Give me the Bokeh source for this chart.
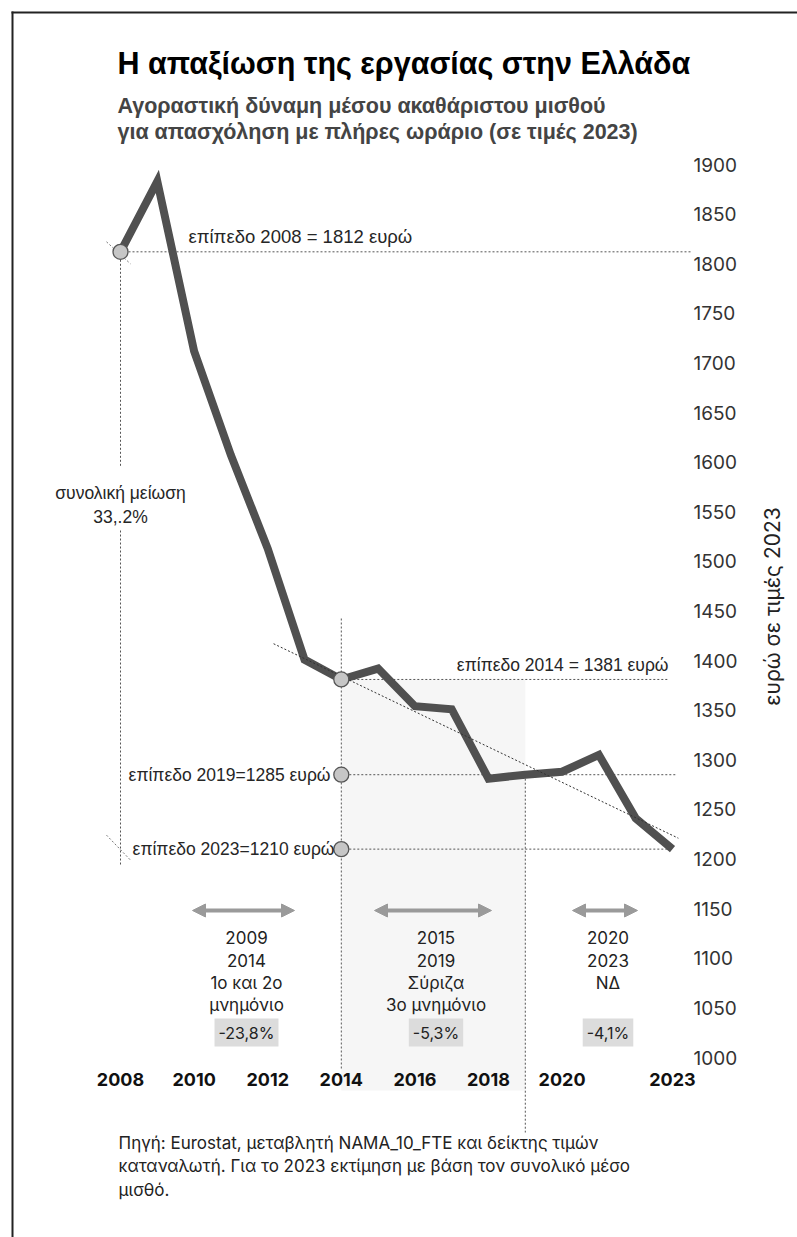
import math
from bokeh.plotting import figure
from bokeh.models import Range1d, FixedTicker, Label, Arrow, NormalHead, BoxAnnotation
from bokeh.embed import file_html
from bokeh.resources import INLINE

# ---------------- data ----------------
years = [2008, 2009, 2010, 2011, 2012, 2013, 2014, 2015,
         2016, 2017, 2018, 2019, 2020, 2021, 2022, 2023]
wage = [1812, 1883, 1712, 1607, 1513, 1401, 1381, 1392,
        1354, 1351, 1281, 1285, 1288, 1305, 1241, 1210]

level_years = [2008, 2014, 2019, 2023]
level_values = [1812, 1381, 1285, 1210]
level_labels = ["επίπεδο 2008 = 1812 ευρώ", "επίπεδο 2014 = 1381 ευρώ",
                "επίπεδο 2019=1285 ευρώ", "επίπεδο 2023=1210 ευρώ"]

marker_x = [2008, 2014, 2014, 2014]
marker_y = [1812, 1381, 1285, 1210]

trend_x = [2012.16, 2023.16]
trend_y = [1417, 1221]

period_lines = [["2009", "2014", "1ο και 2ο", "μνημόνιο"],
                ["2015", "2019", "Σύριζα", "3ο μνημόνιο"],
                ["2020", "2023", "ΝΔ"]]
period_change = ["-23,8%", "-5,3%", "-4,1%"]
total_label = ["συνολική μείωση", "33,.2%"]

x_ticks = [2008, 2010, 2012, 2014, 2016, 2018, 2020, 2023]
y_ticks = [1000, 1050, 1100, 1150, 1200, 1250, 1300, 1350, 1400, 1450,
           1500, 1550, 1600, 1650, 1700, 1750, 1800, 1850, 1900]
y_title = "ευρώ σε τιμές 2023"
title = "Η απαξίωση της εργασίας στην Ελλάδα"
subtitle = ["Αγοραστική δύναμη μέσου ακαθάριστου μισθού",
            "για απασχόληση με πλήρες ωράριο (σε τιμές 2023)"]
source_lines = ["Πηγή: Eurostat, μεταβλητή NAMA_10_FTE και δείκτης τιμών",
                "καταναλωτή. Για το 2023 εκτίμηση με βάση τον συνολικό μέσο",
                "μισθό."]

# ---------------- layout helpers (canvas pixels -> data) ----------------
W, H = 797, 1237
AX_X, AX_Y = 688, 1057          # where the value axis / year axis sit (px)
X2008, PX_YEAR = 120, 36.8
Y1900, SY = 164, 893 / 900.0


def X(px):
    return 2008 + (px - X2008) / PX_YEAR


def Y(py):
    return 1900 - (py - Y1900) / SY


def dx(px):
    return px / PX_YEAR


def dy(px):
    return px / SY


p = figure(width=W, height=H, x_range=Range1d(X(0), X(W)), y_range=Range1d(Y(H), Y(0)),
           y_axis_location="right", output_backend="svg", toolbar_location=None,
           title_location=None, min_border=0)
p.outline_line_color = None
p.grid.visible = False
p.background_fill_color = "white"
p.border_fill_color = "white"

# axes (kept on their sides, drawn at a fixed position)
p.xaxis.fixed_location = Y(AX_Y)
p.xaxis.ticker = FixedTicker(ticks=x_ticks)
p.xaxis.axis_line_color = None
p.xaxis.major_tick_line_color = None
p.xaxis.minor_tick_line_color = None
p.xaxis.major_tick_out = 0
p.xaxis.major_label_standoff = 15
p.xaxis.major_label_text_font = "Inter"
p.xaxis.major_label_text_font_size = "18px"
p.xaxis.major_label_text_font_style = "bold"
p.xaxis.major_label_text_color = "#111111"

p.yaxis.fixed_location = X(AX_X)
p.yaxis.ticker = FixedTicker(ticks=y_ticks)
p.yaxis.axis_line_color = None
p.yaxis.major_tick_line_color = None
p.yaxis.minor_tick_line_color = None
p.yaxis.major_tick_out = 0
p.yaxis.major_label_standoff = 5
p.yaxis.major_label_text_font = "Inter"
p.yaxis.major_label_text_font_size = "19px"
p.yaxis.major_label_text_color = "#333333"

DOT = "2 2"
DOTC = "#555555"

# shaded period 2014-2019
p.add_layout(BoxAnnotation(left=level_years[1], right=level_years[2], top=level_values[1],
                           bottom=Y(1090), fill_color="#f6f6f6", fill_alpha=1.0,
                           line_color=None, level="underlay"))

# horizontal level lines
p.segment(x0=[level_years[0], level_years[1], level_years[1], level_years[1]],
          x1=[X(690), X(668), X(676), X(670)],
          y0=level_values, y1=level_values,
          line_color=DOTC, line_dash=DOT, line_width=1)

# 2008 vertical (total decline) with a gap for the text
p.segment(x0=[level_years[0], level_years[0]], x1=[level_years[0], level_years[0]],
          y0=[level_values[0], Y(530)], y1=[Y(466), Y(865)],
          line_color=DOTC, line_dash=DOT, line_width=1)
# diagonal end ticks
p.segment(x0=[level_years[0] - dx(14), level_years[0] - dx(14)],
          x1=[level_years[0] + dx(10), level_years[0] + dx(10)],
          y0=[level_values[0] + dy(10), level_values[3] + dy(14)],
          y1=[level_values[0] - dy(12), level_values[3] - dy(11)],
          line_color="#777777", line_dash=DOT, line_width=1)

# 2014 and 2019 verticals
p.segment(x0=[level_years[1], level_years[2]], x1=[level_years[1], level_years[2]],
          y0=[Y(618), level_values[2]], y1=[Y(1068), Y(1132)],
          line_color=DOTC, line_dash=DOT, line_width=1)

# main line
p.line(years, wage, line_width=8, line_color="#505050", line_join="miter")
# trend
p.line(trend_x, trend_y, line_dash=DOT, line_width=1, line_color="#333333")
# markers
p.scatter(marker_x, marker_y, size=15, fill_color="#c6c6c6", line_color="#555555", line_width=1.3)

ANN_FONT = "Liberation Sans"
ANN_COLOR = "#262626"

# level labels
lvl_pos = [(X(188), level_values[0] + dy(15), "left", "18.5px"),
           (X(668), level_values[1] + dy(14), "right", "17.5px"),
           (X(330), level_values[2], "right", "17.5px"),
           (X(334), level_values[3], "right", "17.5px")]
for (lx, ly, al, fs), txt in zip(lvl_pos, level_labels):
    p.add_layout(Label(x=lx, y=ly, text=txt, text_align=al, text_baseline="middle",
                       text_font=ANN_FONT, text_font_size=fs, text_color=ANN_COLOR))

# total decline text
for i, txt in enumerate(total_label):
    p.add_layout(Label(x=level_years[0], y=Y(492 + 24 * i), text=txt, text_align="center",
                       text_baseline="middle", text_font=ANN_FONT, text_font_size="17.5px",
                       text_color=ANN_COLOR))

# period arrows and texts
arrow_px = [(186, 300), (368, 497), (566, 643)]
for (a0, a1), lines, chg in zip(arrow_px, period_lines, period_change):
    p.add_layout(Arrow(x_start=X(a0 + 6), x_end=X(a1 - 6), y_start=Y(910), y_end=Y(910),
                       start=NormalHead(size=13, fill_color="#9a9a9a", line_color="#9a9a9a"),
                       end=NormalHead(size=13, fill_color="#9a9a9a", line_color="#9a9a9a"),
                       line_color="#9a9a9a", line_width=4))
    cx = X((a0 + a1) / 2 + 3)
    for j, t in enumerate(lines):
        p.add_layout(Label(x=cx, y=Y(937 + 22.5 * j), text=t, text_align="center",
                           text_baseline="middle", text_font="Inter", text_font_size="17px",
                           text_color="#222222"))
    p.add_layout(Label(x=cx, y=Y(1032), text=chg, text_align="center", text_baseline="middle",
                       text_font="Inter", text_font_size="16px", text_color="#222222",
                       background_fill_color="#dcdcdc", padding=4))

# title & subtitle
p.add_layout(Label(x=X(117), y=Y(62), text=title, text_align="left", text_baseline="middle",
                   text_font="Liberation Sans", text_font_size="30.5px", text_font_style="bold",
                   text_color="#000000"))
for i, t in enumerate(subtitle):
    p.add_layout(Label(x=X(117), y=Y(105 + 26 * i), text=t, text_align="left",
                       text_baseline="middle", text_font="Liberation Sans", text_font_size="21.5px",
                       text_font_style="bold", text_color="#444444"))

# y-axis title (reads bottom to top)
p.add_layout(Label(x=X(772), y=Y(606), text=y_title, angle=math.pi / 2, text_align="center",
                   text_baseline="middle", text_font="Inter", text_font_size="21px",
                   text_color="#222222"))

# source
for i, t in enumerate(source_lines):
    p.add_layout(Label(x=X(118), y=Y(1142 + 23.5 * i), text=t, text_align="left",
                       text_baseline="middle", text_font="Inter", text_font_size="17px",
                       text_color="#222222"))

# frame border (top and left)
p.segment(x0=[X(12), X(11)], x1=[X(12), X(W + 2)], y0=[Y(11), Y(12)], y1=[Y(H + 2), Y(12)],
          line_color="#222222", line_width=2)

open("out.html", "w").write(file_html(p, INLINE))
